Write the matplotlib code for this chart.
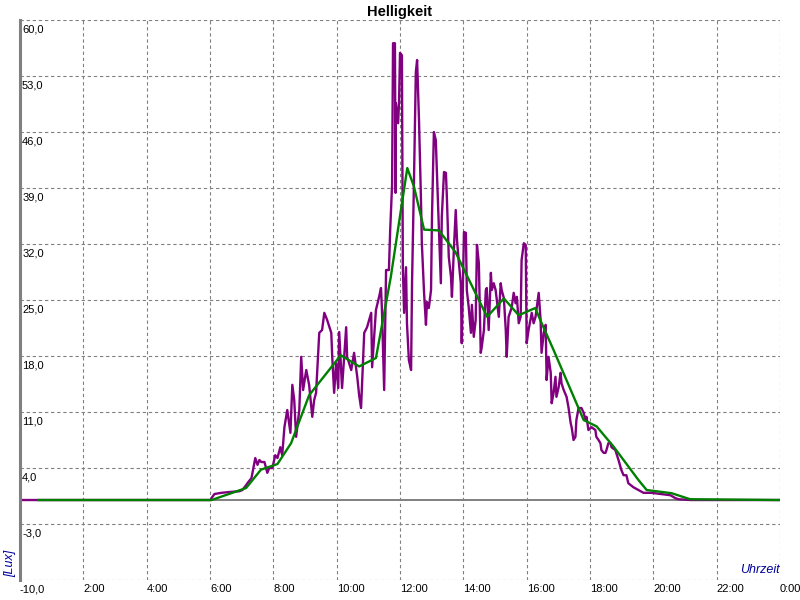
import matplotlib.pyplot as plt
from matplotlib.transforms import ScaledTranslation

plt.rcParams["font.family"] = ["Liberation Sans", "DejaVu Sans"]

# Messwerte: Uhrzeit in Stunden, Helligkeit in Lux
raw_time = [0, 6.02, 6.05, 6.14, 6.36, 6.61, 6.93, 7.02, 7.12, 7.21, 7.31, 7.37, 7.43,
            7.50, 7.56, 7.62, 7.72, 7.81, 7.87, 7.97, 8.06, 8.13, 8.22, 8.28, 8.35,
            8.44, 8.54, 8.60, 8.66, 8.72, 8.82, 8.88, 8.94, 9.04, 9.13, 9.23, 9.29,
            9.35, 9.45, 9.54, 9.61, 9.70, 9.83, 9.86, 9.92, 9.98, 10.05, 10.08, 10.17,
            10.30, 10.33, 10.46, 10.55, 10.65, 10.71, 10.77, 10.87, 10.96, 11.09,
            11.12, 11.24, 11.34, 11.40, 11.43, 11.50, 11.56, 11.65, 11.69, 11.75,
            11.78, 11.84, 11.86, 11.87, 11.94, 11.97, 12.00, 12.06, 12.09, 12.13,
            12.19, 12.22, 12.28, 12.35, 12.38, 12.44, 12.50, 12.54, 12.60, 12.66,
            12.69, 12.76, 12.82, 12.85, 12.91, 12.98, 13.01, 13.07, 13.13, 13.17,
            13.23, 13.29, 13.32, 13.39, 13.45, 13.48, 13.54, 13.61, 13.64, 13.70,
            13.76, 13.80, 13.86, 13.92, 13.95, 14.02, 14.08, 14.11, 14.17, 14.24,
            14.27, 14.33, 14.39, 14.43, 14.49, 14.55, 14.58, 14.65, 14.71, 14.74,
            14.80, 14.87, 14.90, 14.96, 15.02, 15.12, 15.18, 15.21, 15.28, 15.34,
            15.37, 15.43, 15.53, 15.59, 15.65, 15.69, 15.75, 15.81, 15.84, 15.91,
            15.97, 16.00, 16.06, 16.16, 16.22, 16.28, 16.38, 16.44, 16.47, 16.54,
            16.60, 16.63, 16.69, 16.76, 16.79, 16.85, 16.91, 16.94, 17.01, 17.07,
            17.10, 17.17, 17.26, 17.32, 17.39, 17.42, 17.48, 17.54, 17.57, 17.64,
            17.73, 17.80, 17.86, 17.89, 17.95, 18.05, 18.17, 18.20, 18.27, 18.33,
            18.36, 18.43, 18.49, 18.52, 18.58, 18.65, 18.68, 18.80, 18.90, 18.99,
            19.06, 19.15, 19.21, 19.37, 19.53, 19.69, 19.94, 20.25, 20.54, 20.69,
            20.79, 21.17, 24]
raw_lux = [0, 0, 0.25, 0.75, 0.9, 1.0, 1.1, 1.25, 1.75, 2.25, 2.75, 4.0, 5.25,
           4.4, 5.0, 4.75, 4.75, 3.4, 4.0, 4.0, 5.6, 5.25, 6.6, 5.6, 9.1,
           11.25, 8.4, 14.4, 12.5, 7.9, 11.25, 17.9, 13.75, 16.25, 14.4, 10.4, 12.5,
           13.4, 20.9, 21.25, 23.4, 22.5, 20.9, 17.9, 13.4, 17.1, 14.0, 21.0, 14.0,
           21.6, 17.9, 16.25, 18.4, 15.4, 13.1, 11.5, 20.9, 21.6, 23.4,
           16.6, 23.75, 25.4, 26.5, 23.75, 13.75, 28.75, 28.75, 33.75, 39.4,
           57.1, 57.1, 38.4, 49.6, 47.1, 49.75, 55.9, 55.6, 29.1, 23.4,
           29.1, 22.1, 17.5, 16.25, 27.1, 39.6, 53.5, 55.0, 47.5, 37.9,
           32.1, 25.9, 21.9, 24.75, 24.0, 26.25, 35.4, 46.0, 45.0, 40.4,
           33.75, 27.1, 35.4, 41.0, 40.9, 37.9, 30.4, 27.9, 25.4, 31.25,
           36.25, 32.5, 29.6, 27.1, 19.6, 33.5, 33.4, 26.25, 24.1, 20.9,
           24.4, 20.4, 22.5, 31.9, 29.6, 18.4, 19.1, 21.25, 26.25, 26.5,
           21.25, 28.4, 26.25, 27.1, 26.25, 22.9, 27.1, 26.25, 25.25, 21.25,
           17.9, 22.9, 24.1, 25.9, 24.6, 25.4, 22.1, 22.9, 30.0, 32.1,
           31.9, 19.6, 21.25, 23.4, 22.1, 22.9, 25.9, 22.5, 18.4, 20.9,
           21.9, 15.0, 17.9, 15.9, 12.1, 13.4, 15.4, 12.9, 14.1, 15.9,
           14.6, 13.75, 12.9, 11.6, 9.6, 9.1, 7.5, 7.9, 10.0, 11.5,
           11.5, 10.9, 10.0, 10.4, 8.75, 9.1, 8.75, 7.9, 7.5, 7.1,
           6.25, 5.9, 5.9, 6.25, 7.1, 7.1, 6.6, 6.25, 5.0, 3.75,
           3.1, 3.1, 2.1, 1.6, 1.25, 0.9, 0.9, 0.75, 0.6, 0.25,
           0.1, 0, 0]

# geglaettete Kurve
avg_time = [0.57, 6.05, 7.14, 7.61, 8.13, 8.56, 9.13, 10.13, 10.71, 11.24, 11.71,
            12.23, 12.44, 12.76, 13.23, 13.75, 14.75, 15.28, 15.75, 16.27, 16.43,
            16.85, 17.80, 18.21, 18.74, 19.53, 19.79, 20.58, 21.16, 24.0]
avg_lux = [0, 0, 1.5, 3.8, 4.5, 7.1, 13.1, 18.1, 16.7, 17.75, 27.9,
           41.5, 39.2, 33.8, 33.7, 31.0, 22.9, 25.2, 23.1, 24.0, 22.5,
           18.75, 10.0, 9.2, 6.7, 2.5, 1.25, 0.85, 0.1, 0]

y_ticks = [-10, -3, 4, 11, 18, 25, 32, 39, 46, 53, 60]
x_ticks = [0, 2, 4, 6, 8, 10, 12, 14, 16, 18, 20, 22, 24]
x_labels = ["-10,0", "2:00", "4:00", "6:00", "8:00", "10:00", "12:00",
            "14:00", "16:00", "18:00", "20:00", "22:00", "0:00"]

fig = plt.figure(figsize=(8, 6), dpi=100)
ax = fig.add_axes([0.025, 0.0333, 0.95, 0.9333])
ax.set_xlim(0, 24)
ax.set_ylim(-10, 60)

ax.axhline(0, color="#808080", linewidth=1.4, zorder=1)
ax.plot(raw_time, raw_lux, color="#800080", linewidth=1.7, zorder=2)
ax.plot(avg_time, avg_lux, color="#008000", linewidth=1.7, zorder=3)

ax.set_xticks(x_ticks)
ax.set_xticklabels(x_labels, ha="left", fontsize=8)
shift = ScaledTranslation(1.5 / 72, 0, fig.dpi_scale_trans)
for lab in ax.get_xticklabels():
    lab.set_transform(lab.get_transform() + shift)
ax.tick_params(axis="x", length=0, pad=3)
ax.set_yticks(y_ticks)
ax.set_yticklabels([])
ax.tick_params(axis="y", length=0)

ax.grid(True, color="#808080", linestyle=(0, (3, 2.5)), linewidth=0.8)
ax.set_axisbelow(True)
for s in ["top", "right", "bottom"]:
    ax.spines[s].set_visible(False)
ax.spines["left"].set_color("#808080")
ax.spines["left"].set_linewidth(2.2)
ax.spines["left"].set_zorder(5)

for v in y_ticks[1:]:
    ax.annotate(f"{v:.1f}".replace(".", ","), xy=(0, v), xytext=(1.5, -3.5),
                textcoords="offset points", ha="left", va="top", fontsize=8)

fig.text(0.5, 1 - 12 / 600, "Helligkeit", ha="center", va="center",
         fontsize=10.5, fontweight="bold")
fig.text(10 / 800, 1 - 563 / 600, "[Lux]", rotation=90, ha="center", va="center",
         fontsize=9, style="italic", color="#000099")
fig.text(780 / 800, 1 - 570 / 600, "Uhrzeit", ha="right", va="center",
         fontsize=9, style="italic", color="#000099")

fig.savefig("out.png", dpi=100)
